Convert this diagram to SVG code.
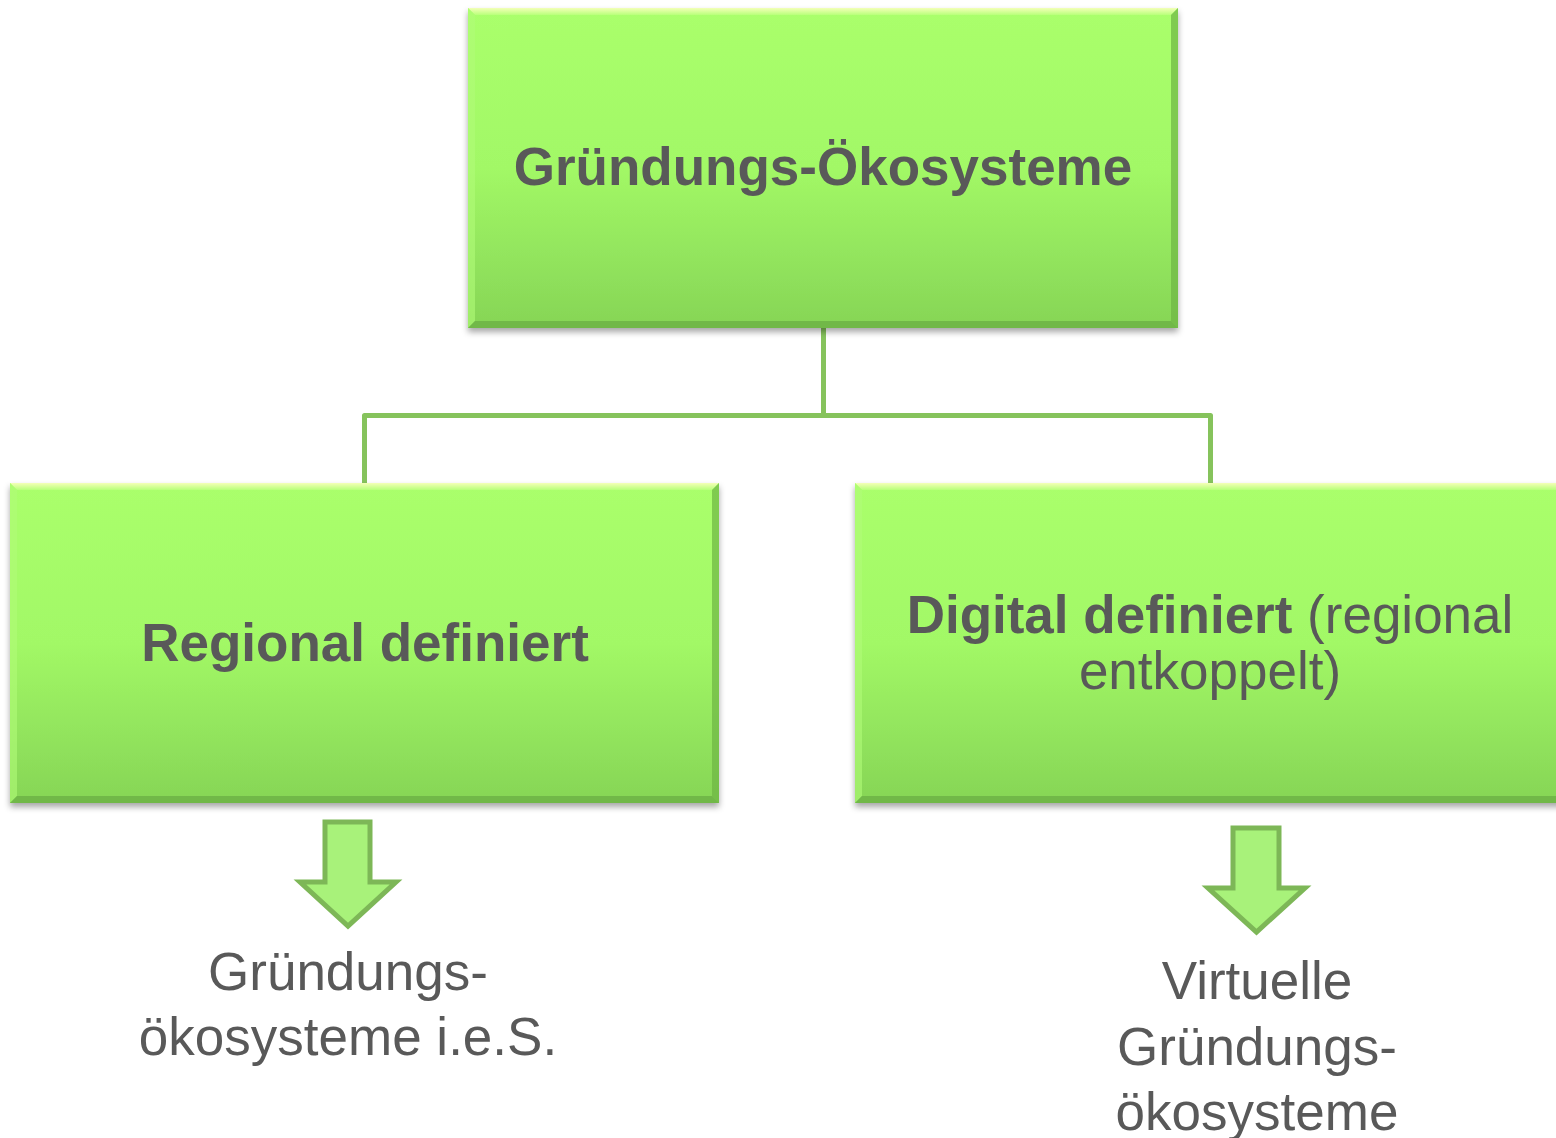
<svg xmlns="http://www.w3.org/2000/svg" width="1556" height="1138" viewBox="0 0 1556 1138">
<defs>
<linearGradient id="boxGrad" x1="0" y1="0" x2="0" y2="1">
<stop offset="0" stop-color="#aaff6c"/>
<stop offset="0.5" stop-color="#a2f866"/>
<stop offset="1" stop-color="#86d556"/>
</linearGradient>
<linearGradient id="topBevel" x1="0" y1="0" x2="0" y2="1">
<stop offset="0" stop-color="#f4ffb8"/>
<stop offset="1" stop-color="#b8ff7a"/>
</linearGradient>
<filter id="shadow" x="-5%" y="-5%" width="110%" height="115%">
<feDropShadow dx="0" dy="4" stdDeviation="3" flood-color="#000" flood-opacity="0.35"/>
</filter>
<g id="bevel">
</g>
</defs>
<style>
.box{fill:url(#boxGrad);filter:url(#shadow);}
.bt{fill:url(#topBevel);}
.bl{fill:#b0fb78;opacity:0.6;}
.br{fill:#6db545;opacity:0.7;}
.bb{fill:#6aae44;opacity:0.75;}
.conn{fill:none;stroke:#86c35c;stroke-width:5;stroke-linejoin:round;}
.arrow{fill:#a8f27a;stroke:#7db757;stroke-width:5;stroke-linejoin:miter;}
.tb{font-family:"Liberation Sans",Arial,sans-serif;font-weight:bold;font-size:53px;fill:#595959;}
.tr{font-family:"Liberation Sans",Arial,sans-serif;font-weight:normal;font-size:53px;fill:#595959;}
</style>

<g id="connectors">
<path class="conn" d="M823.5,328 V415.5 H364.5 V483"/>
<path class="conn" d="M823.5,415.5 H1210.5 V483"/>
</g>

<g id="node-top">
<rect class="box" x="468" y="8" width="710" height="320"/>
<polygon class="bt" points="468,8 1178,8 1171,15 475,15"/>
<polygon class="bl" points="468,8 475,15 475,321 468,328"/>
<polygon class="br" points="1178,8 1178,328 1171,321 1171,15"/>
<polygon class="bb" points="468,328 475,321 1171,321 1178,328"/>
<text class="tb" x="823" y="185" text-anchor="middle">Gründungs-Ökosysteme</text>
</g>

<g id="node-left">
<rect class="box" x="10" y="483" width="709" height="320"/>
<polygon class="bt" points="10,483 719,483 712,490 17,490"/>
<polygon class="bl" points="10,483 17,490 17,796 10,803"/>
<polygon class="br" points="719,483 719,803 712,796 712,490"/>
<polygon class="bb" points="10,803 17,796 712,796 719,803"/>
<text class="tb" x="365" y="661" text-anchor="middle">Regional definiert</text>
</g>

<g id="node-right">
<rect class="box" x="855" y="483" width="710" height="320"/>
<polygon class="bt" points="855,483 1565,483 1558,490 862,490"/>
<polygon class="bl" points="855,483 862,490 862,796 855,803"/>
<polygon class="bb" points="855,803 862,796 1558,796 1565,803"/>
<text x="1210" y="633" text-anchor="middle"><tspan class="tb">Digital definiert</tspan><tspan class="tr"> (regional</tspan></text>
<text class="tr" x="1210" y="689" text-anchor="middle">entkoppelt)</text>
</g>

<g id="arrow-left">
<polygon class="arrow" points="325,822 370,822 370,882 396,882 348,926 300,882 325,882"/>
</g>

<g id="arrow-right">
<polygon class="arrow" points="1233,828 1279,828 1279,888 1305,888 1256.5,932 1208,888 1233,888"/>
</g>

<g id="label-left">
<text class="tr" x="348" y="990" text-anchor="middle">Gründungs-</text>
<text class="tr" x="348" y="1055" text-anchor="middle">ökosysteme i.e.S.</text>
</g>

<g id="label-right">
<text class="tr" x="1257" y="999" text-anchor="middle">Virtuelle</text>
<text class="tr" x="1257" y="1065" text-anchor="middle">Gründungs-</text>
<text class="tr" x="1257" y="1130" text-anchor="middle">ökosysteme</text>
</g>
</svg>
